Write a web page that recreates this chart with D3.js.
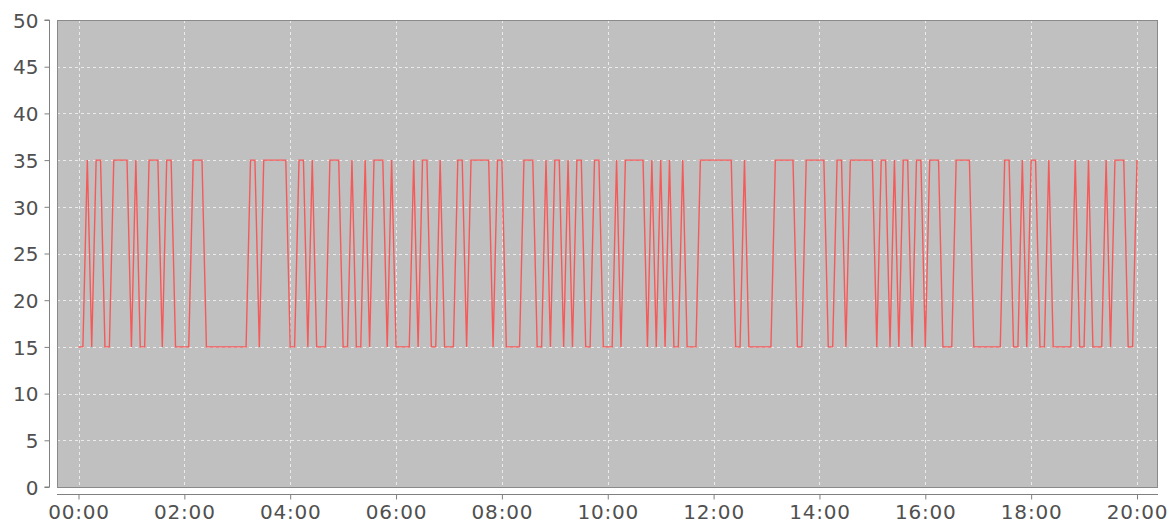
<!DOCTYPE html>
<html>
<head>
<meta charset="utf-8">
<script src="https://cdn.jsdelivr.net/npm/d3@7"></script>
<style>
  html, body { margin: 0; padding: 0; background: #ffffff; }
  svg { display: block; }
  .tick-label { font-family: "DejaVu Sans", sans-serif; font-size: 20px; fill: #505050; }
</style>
</head>
<body>
<svg id="chart" width="1167" height="523"></svg>
<script>
// Sample times, one every five minutes, one row per hour
const times = [
  "00:00","00:05","00:10","00:15","00:20","00:25","00:30","00:35","00:40","00:45","00:50","00:55",
  "01:00","01:05","01:10","01:15","01:20","01:25","01:30","01:35","01:40","01:45","01:50","01:55",
  "02:00","02:05","02:10","02:15","02:20","02:25","02:30","02:35","02:40","02:45","02:50","02:55",
  "03:00","03:05","03:10","03:15","03:20","03:25","03:30","03:35","03:40","03:45","03:50","03:55",
  "04:00","04:05","04:10","04:15","04:20","04:25","04:30","04:35","04:40","04:45","04:50","04:55",
  "05:00","05:05","05:10","05:15","05:20","05:25","05:30","05:35","05:40","05:45","05:50","05:55",
  "06:00","06:05","06:10","06:15","06:20","06:25","06:30","06:35","06:40","06:45","06:50","06:55",
  "07:00","07:05","07:10","07:15","07:20","07:25","07:30","07:35","07:40","07:45","07:50","07:55",
  "08:00","08:05","08:10","08:15","08:20","08:25","08:30","08:35","08:40","08:45","08:50","08:55",
  "09:00","09:05","09:10","09:15","09:20","09:25","09:30","09:35","09:40","09:45","09:50","09:55",
  "10:00","10:05","10:10","10:15","10:20","10:25","10:30","10:35","10:40","10:45","10:50","10:55",
  "11:00","11:05","11:10","11:15","11:20","11:25","11:30","11:35","11:40","11:45","11:50","11:55",
  "12:00","12:05","12:10","12:15","12:20","12:25","12:30","12:35","12:40","12:45","12:50","12:55",
  "13:00","13:05","13:10","13:15","13:20","13:25","13:30","13:35","13:40","13:45","13:50","13:55",
  "14:00","14:05","14:10","14:15","14:20","14:25","14:30","14:35","14:40","14:45","14:50","14:55",
  "15:00","15:05","15:10","15:15","15:20","15:25","15:30","15:35","15:40","15:45","15:50","15:55",
  "16:00","16:05","16:10","16:15","16:20","16:25","16:30","16:35","16:40","16:45","16:50","16:55",
  "17:00","17:05","17:10","17:15","17:20","17:25","17:30","17:35","17:40","17:45","17:50","17:55",
  "18:00","18:05","18:10","18:15","18:20","18:25","18:30","18:35","18:40","18:45","18:50","18:55",
  "19:00","19:05","19:10","19:15","19:20","19:25","19:30","19:35","19:40","19:45","19:50","19:55",
  "20:00"
];

// Recorded level at each sample time
const values = [
  15,15,35,15,35,35,15,15,35,35,35,35,
  15,35,15,15,35,35,35,15,35,35,15,15,
  15,15,35,35,35,15,15,15,15,15,15,15,
  15,15,15,35,35,15,35,35,35,35,35,35,
  15,15,35,35,15,35,15,15,15,35,35,35,
  15,15,35,15,15,35,15,35,35,35,15,35,
  15,15,15,15,35,15,35,35,15,15,35,15,
  15,15,35,35,15,35,35,35,35,35,15,35,
  35,15,15,15,15,35,35,35,15,15,35,15,
  35,35,15,35,15,35,35,15,15,35,35,15,
  15,15,35,15,35,35,35,35,35,15,35,15,
  35,15,35,15,15,35,15,15,15,35,35,35,
  35,35,35,35,35,15,15,35,15,15,15,15,
  15,15,35,35,35,35,35,15,15,35,35,35,
  35,35,15,15,35,35,15,35,35,35,35,35,
  35,15,35,35,15,35,15,35,35,15,35,35,
  15,35,35,35,15,15,15,35,35,35,35,15,
  15,15,15,15,15,15,35,35,15,15,35,15,
  35,35,15,15,35,15,15,15,15,15,35,15,
  15,35,15,15,15,35,15,35,35,35,15,15,
  35
];

const xTickLabels = ["00:00","02:00","04:00","06:00","08:00","10:00","12:00","14:00","16:00","18:00","20:00"];
const yTickValues = [0, 5, 10, 15, 20, 25, 30, 35, 40, 45, 50];

const parseTime = d3.timeParse("%H:%M");
const fmtTime = d3.timeFormat("%H:%M");
const data = times.map((t, i) => ({ t: parseTime(t), v: values[i] }));

const svg = d3.select("#chart");

// Plot rectangle
const plot = { left: 57, right: 1158, top: 20, bottom: 487 };

const x = d3.scaleTime()
  .domain([parseTime(times[0]), parseTime(times[times.length - 1])])
  .range([78.5, 1137]);

const y = d3.scaleLinear()
  .domain([0, 50])
  .range([plot.bottom, plot.top]);

// Plot background
svg.append("rect")
  .attr("x", plot.left).attr("y", plot.top)
  .attr("width", plot.right - plot.left).attr("height", plot.bottom - plot.top)
  .attr("fill", "#c0c0c0");

// Grid lines
const grid = svg.append("g").attr("stroke", "#ebebeb").attr("stroke-width", 1)
  .attr("stroke-dasharray", "3,3").attr("shape-rendering", "crispEdges");
xTickLabels.forEach(lbl => {
  const xx = Math.round(x(parseTime(lbl))) + 0.5;
  grid.append("line").attr("x1", xx).attr("x2", xx).attr("y1", plot.top).attr("y2", plot.bottom);
});
yTickValues.forEach(v => {
  const yy = Math.round(y(v)) + 0.5;
  grid.append("line").attr("x1", plot.left).attr("x2", plot.right).attr("y1", yy).attr("y2", yy);
});

// Series line
const line = d3.line().x(d => x(d.t)).y(d => y(d.v));
svg.append("path")
  .datum(data)
  .attr("fill", "none")
  .attr("stroke", "#f55a5a")
  .attr("stroke-width", 1.4)
  .attr("stroke-linejoin", "miter")
  .attr("d", line);

// Plot border
svg.append("rect")
  .attr("x", plot.left + 0.5).attr("y", plot.top + 0.5)
  .attr("width", plot.right - plot.left - 1).attr("height", plot.bottom - plot.top)
  .attr("fill", "none").attr("stroke", "#8a8a8a").attr("stroke-width", 1);

// Y axis, offset to the left of the plot
const yAxis = d3.axisLeft(y).tickValues(yTickValues).tickSize(5).tickPadding(6).tickFormat(d3.format("d"));
const gy = svg.append("g").attr("transform", "translate(49.5,0)").call(yAxis);
gy.select(".domain").attr("stroke", "#808080").attr("d", `M-5,${plot.bottom}H0V${plot.top}H-5`);
gy.selectAll(".tick line").attr("stroke", "#808080");
gy.selectAll(".tick text").attr("class", "tick-label").attr("font-family", null).attr("font-size", null)
  .attr("dy", "0.36em");

// X axis, offset below the plot
const xAxis = d3.axisBottom(x)
  .tickValues(xTickLabels.map(parseTime))
  .tickSize(5).tickPadding(5)
  .tickFormat(fmtTime);
const gx = svg.append("g").attr("transform", "translate(0,494.5)").call(xAxis);
gx.select(".domain").attr("stroke", "#808080").attr("d", `M${plot.left},0H${plot.right}`);
gx.selectAll(".tick line").attr("stroke", "#808080");
gx.selectAll(".tick text").attr("class", "tick-label").attr("font-family", null).attr("font-size", null)
  .attr("letter-spacing", "0.8px");
</script>
</body>
</html>
